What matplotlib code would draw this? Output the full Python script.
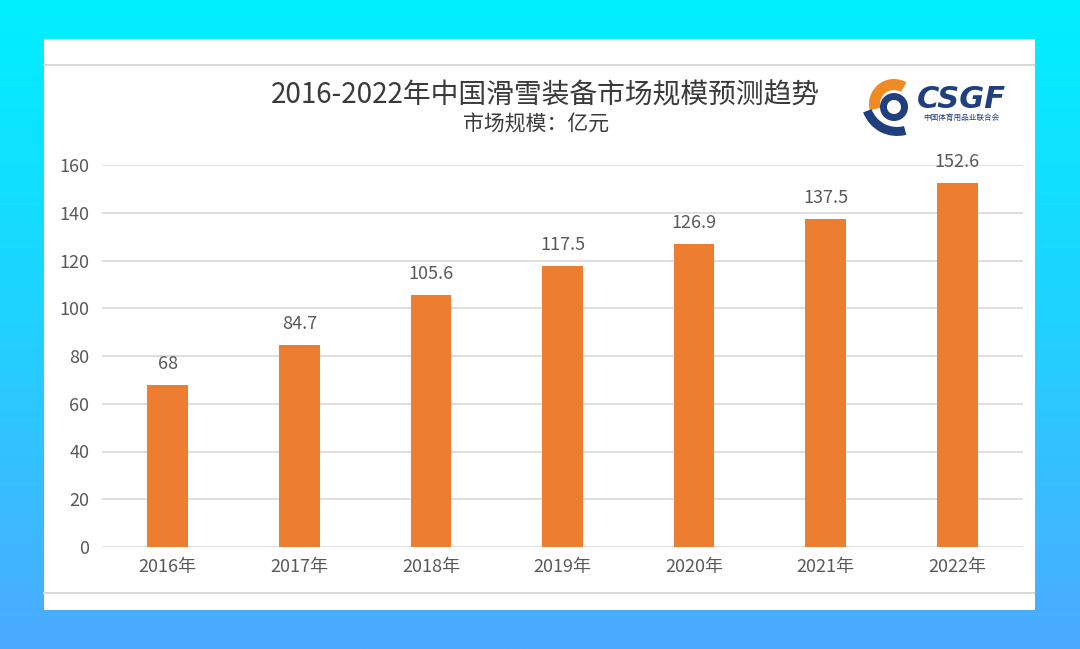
import numpy as np
import matplotlib.pyplot as plt
from matplotlib.patches import Rectangle, Wedge
from matplotlib.colors import LinearSegmentedColormap

plt.rcParams['font.family'] = ['Noto Sans CJK SC', 'DejaVu Sans']

# datos
years = ['2016年', '2017年', '2018年', '2019年', '2020年', '2021年', '2022年']
valores = [68, 84.7, 105.6, 117.5, 126.9, 137.5, 152.6]
etiquetas = ['68', '84.7', '105.6', '117.5', '126.9', '137.5', '152.6']
titulo = '2016-2022年中国滑雪装备市场规模预测趋势'
subtitulo = '市场规模：亿元'

W, H = 1080, 649
fig = plt.figure(figsize=(W / 100, H / 100), dpi=100)

# fondo en pixeles (degradado + panel blanco + logo)
bg = fig.add_axes([0, 0, 1, 1])
bg.set_xlim(0, W)
bg.set_ylim(H, 0)
bg.axis('off')
cmap = LinearSegmentedColormap.from_list('fondo', ['#00F0FF', '#20D2FF', '#4DAAFF'])
grad = np.linspace(0, 1, 256).reshape(-1, 1)
bg.imshow(grad, cmap=cmap, extent=[0, W, H, 0], aspect='auto', zorder=0)
bg.add_patch(Rectangle((44, 39), 991, 571, facecolor='white', edgecolor='none', zorder=1))
bg.plot([44, 1034], [65, 65], color='#D9D9D9', lw=1.5, zorder=2)
bg.plot([44, 1034], [593, 593], color='#D9D9D9', lw=1.5, zorder=2)

bg.text(545, 95, titulo, ha='center', va='center', fontsize=20, color='#3A3A3A', zorder=3)
bg.text(536, 125, subtitulo, ha='center', va='center', fontsize=15, color='#3A3A3A', zorder=3)

# logo CSGF (aproximado); eje y invertido -> angulos en sentido horario
bg.add_patch(Wedge((894, 104), 25, 165, 300, width=11, facecolor='#F08A24', zorder=3))
bg.add_patch(Wedge((894, 107), 14, 0, 360, width=7, facecolor='#1F3F7F', zorder=3))
bg.add_patch(Wedge((897, 100), 36, 75, 160, width=9, facecolor='#1F3F7F', zorder=3))
bg.text(961, 99, 'CSGF', ha='center', va='center', fontsize=22, fontweight='bold',
        fontstyle='italic', family='DejaVu Sans', color='#1F3F7F', zorder=3)
bg.text(961, 118, '中国体育用品业联合会', ha='center', va='center', fontsize=5.5,
        color='#1F3F7F', zorder=3)

# grafico
ax = fig.add_axes([102 / W, 1 - 547 / H, 921 / W, 382 / H])
ax.set_facecolor('none')
x = np.arange(len(years))
ax.bar(x, valores, width=0.31, color='#ED7D31', zorder=3)
for xi, v, t in zip(x, valores, etiquetas):
    ax.annotate(t, (xi, v), xytext=(0, 21), textcoords='offset pixels',
                ha='center', va='center', fontsize=13, color='#595959')

ax.set_xlim(-0.5, len(years) - 0.5)
ax.set_ylim(0, 160)
ax.set_yticks(np.arange(0, 161, 20))
ax.set_xticks(x)
ax.set_xticklabels(years)
ax.tick_params(axis='both', length=0, labelsize=13, labelcolor='#595959')
ax.tick_params(axis='y', pad=9)
ax.tick_params(axis='x', pad=8)
ax.grid(axis='y', color='#D9D9D9', lw=1.2, zorder=0)
for s in ax.spines.values():
    s.set_visible(False)

plt.savefig('out.png', dpi=100)
